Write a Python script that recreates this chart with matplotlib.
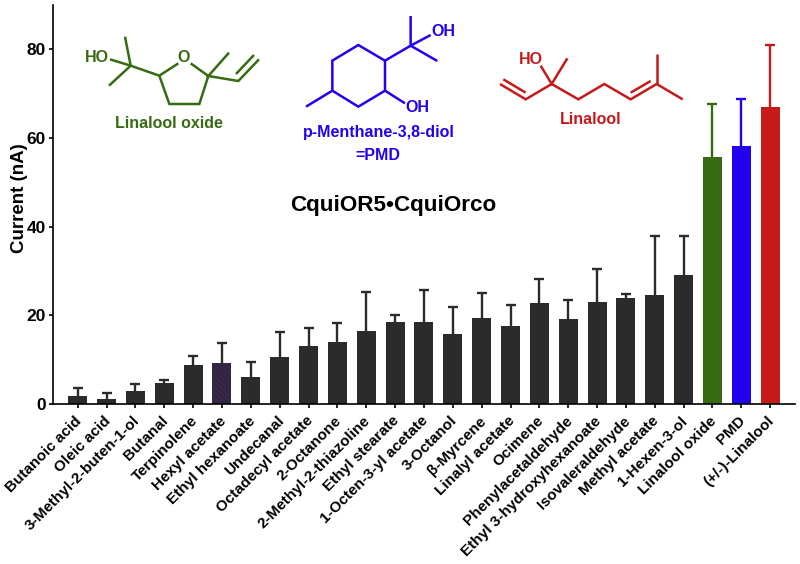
import matplotlib
matplotlib.use("Agg")
import matplotlib.pyplot as plt
from matplotlib.transforms import ScaledTranslation

plt.rcParams['font.family'] = ['Liberation Sans', 'DejaVu Sans']
plt.rcParams['font.weight'] = 'bold'
plt.rcParams['hatch.linewidth'] = 0.8

odorants = ["Butanoic acid", "Oleic acid", "3-Methyl-2-buten-1-ol", "Butanal", "Terpinolene",
            "Hexyl acetate", "Ethyl hexanoate", "Undecanal", "Octadecyl acetate", "2-Octanone",
            "2-Methyl-2-thiazoline", "Ethyl stearate", "1-Octen-3-yl acetate", "3-Octanol",
            "β-Myrcene", "Linalyl acetate", "Ocimene", "Phenylacetaldehyde",
            "Ethyl 3-hydroxyhexanoate", "Isovaleraldehyde", "Methyl acetate", "1-Hexen-3-ol",
            "Linalool oxide", "PMD", "(+/-)-Linalool"]
current = [1.8, 1.2, 3.0, 4.8, 8.7, 9.2, 6.2, 10.7, 13.1, 13.9, 16.4, 18.4, 18.6, 15.7,
           19.4, 17.7, 22.8, 19.2, 23.0, 24.0, 24.5, 29.0, 55.7, 58.2, 67.0]
upper = [3.7, 2.4, 4.6, 5.4, 10.9, 13.8, 9.5, 16.2, 17.2, 18.3, 25.3, 20.1, 25.7, 21.9,
         25.1, 22.4, 28.3, 23.4, 30.4, 24.9, 37.9, 38.0, 67.7, 68.7, 81.0]
yticks = [0, 20, 40, 60, 80]

DARK, GREEN, BLUE, RED = '#2b2b2b', '#376b12', '#2200f0', '#c41a1a'
colors = [DARK] * 22 + [GREEN, BLUE, RED]

fig = plt.figure(figsize=(8, 5.64), dpi=100)
ax = fig.add_axes([53 / 800, 1 - 404 / 564, (795 - 53) / 800, (404 - 5) / 564])
pos = list(range(len(odorants)))
bars = ax.bar(pos, current, width=0.66, color=colors, zorder=2)
bars[5].set_hatch('\\\\\\\\\\\\')
bars[5].set_edgecolor('#4a1a80')
bars[5].set_linewidth(0)
for x, c, u, col in zip(pos, current, upper, colors):
    _, caps, _ = ax.errorbar(x, c, yerr=[[0], [u - c]], color=col, elinewidth=1.7, capsize=3.5,
                             capthick=1.7, zorder=1)
    caps[0].set_visible(False)

ax.set_xlim(-0.856, 24.86)
ax.set_ylim(0, 90)
ax.set_yticks(yticks)
ax.set_xticks(pos)
ax.set_xticklabels(odorants, rotation=45, ha='right', rotation_mode='anchor', fontsize=11)
ax.tick_params(axis='y', labelsize=12.5, width=1.2, length=3, pad=2)
ax.tick_params(axis='x', width=1.2, length=3, pad=4)
shift = ScaledTranslation(-3 / 100, 0, fig.dpi_scale_trans)
for t in ax.get_xticklabels():
    t.set_transform(t.get_transform() + shift)
for s in ('top', 'right'):
    ax.spines[s].set_visible(False)
for s in ('left', 'bottom'):
    ax.spines[s].set_linewidth(1.2)
ax.set_ylabel("Current (nA)", fontsize=13.5, fontweight='bold')
ax.yaxis.set_label_coords((28 - 53) / 742, (404 - 198) / 399)

# overlay in reference pixel space for the structural formulas
ov = fig.add_axes([0, 0, 1, 1], zorder=5)
ov.set_xlim(0, 800)
ov.set_ylim(564, 0)
ov.axis('off')

def strokes(col, paths, lw=1.8):
    for p in paths:
        ov.plot([q[0] for q in p], [q[1] for q in p], color=col, lw=lw,
                solid_capstyle='butt', solid_joinstyle='miter')

def zp1(*pts):
    return [(60 + x / 3, y / 3) for x, y in pts]

def zp2(*pts):
    return [(480 + x / 3, 20 + y / 3) for x, y in pts]

strokes(GREEN, [
    zp1((150, 178), (212, 197), (298, 227), (355, 190)),
    zp1((195, 110), (212, 197), (147, 257)),
    zp1((392, 190), (445, 228), (418, 312), (328, 312), (298, 227)),
    zp1((507, 158), (445, 228), (535, 243), (597, 178)),
    zp1((528, 222), (582, 165)),
])
strokes(BLUE, [
    zp1((975, 182), (895, 135), (817, 182), (817, 272), (895, 320), (975, 272), (975, 182),
        (1052, 137), (1132, 183)),
    zp1((1052, 48), (1052, 137), (1112, 105)),
    zp1((975, 272), (1035, 310)),
    zp1((817, 272), (738, 320)),
])
strokes(RED, [
    zp2((60, 192), (137, 238), (215, 192), (295, 238), (373, 192), (452, 238), (530, 192), (608, 238)),
    zp2((70, 178), (137, 218)),
    zp2((452, 218), (512, 183)),
    zp2((530, 192), (530, 103)),
    zp2((182, 137), (215, 192), (262, 115)),
])

def lab(x, y, s, col, size):
    ov.text(x, y, s, color=col, fontsize=size, fontweight='bold', ha='center', va='center')

lab(97, 57, "HO", GREEN, 11.5)
lab(184, 58, "O", GREEN, 11.5)
lab(169, 123, "Linalool oxide", GREEN, 11.5)
lab(443, 32, "OH", BLUE, 11.5)
lab(417, 107, "OH", BLUE, 11.5)
lab(379, 132, "p-Menthane-3,8-diol", BLUE, 11.5)
lab(378, 155, "=PMD", BLUE, 11.5)
lab(531, 59, "HO", RED, 11.5)
lab(591, 119, "Linalool", RED, 11.5)
lab(393, 205, "CquiOR5•CquiOrco", 'black', 16.2)

fig.savefig("out.png", dpi=100)
